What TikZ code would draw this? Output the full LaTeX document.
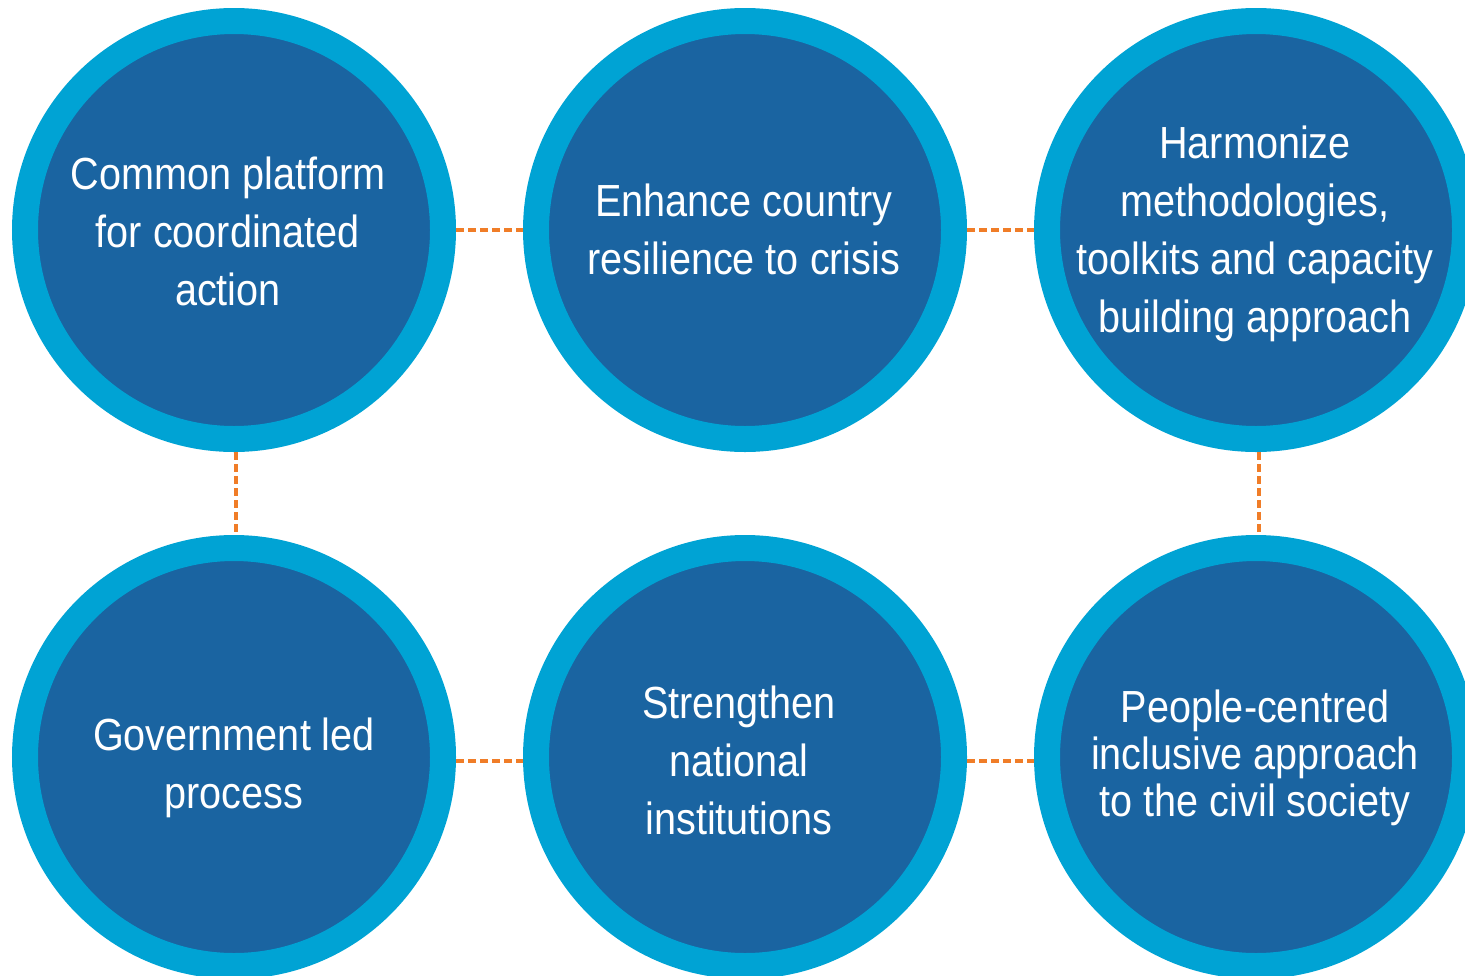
\documentclass[tikz,border=0pt]{standalone}
\usepackage{fontspec}
\setmainfont{Liberation Sans}[FakeStretch=0.88]
\definecolor{ringblue}{HTML}{00A3D4}
\definecolor{coreblue}{HTML}{1A64A1}
\definecolor{linkorange}{HTML}{F07D28}
\tikzset{
  bubble/.style={circle, draw=ringblue, line width=13pt, fill=coreblue, minimum size=209pt, inner sep=0pt},
  bubbletext/.style={text=white, align=center, font=\fontsize{22.5pt}{29pt}\selectfont, inner sep=0pt},
  link/.style={draw=linkorange, line width=1.6pt, dash pattern=on 4pt off 2pt}
}
\begin{document}
\begin{tikzpicture}[x=0.5pt, y=-0.5pt]
\useasboundingbox (0,0) rectangle (1465,975);
\node[bubble] (c1) at (234,230) {};
\node[bubble] (c2) at (745,230) {};
\node[bubble] (c3) at (1256,230) {};
\node[bubble] (c4) at (234,757) {};
\node[bubble] (c5) at (745,757) {};
\node[bubble] (c6) at (1256,757) {};
\draw[link] (c1) -- (c2);
\draw[link] (c2) -- (c3);
\draw[link] (c1.south) ++(2,0) coordinate (a14) -- (a14 |- c4.north);
\draw[link] (c3.south) ++(3,0) coordinate (a36) -- (a36 |- c6.north);
\draw[link] (c4.east) ++(0,4) coordinate (a45) -- (a45 -| c5.west);
\draw[link] (c5.east) ++(0,4) coordinate (a56) -- (a56 -| c6.west);
\node[bubbletext] (t1) at (228,231) {Common platform\\for coordinated\\action};
\node[bubbletext] (t2) at (744,229) {Enhance country\\resilience to crisis};
\node[bubbletext] (t3) at (1255,234) {Harmonize\\methodologies,\\toolkits and capacity\\building approach};
\node[bubbletext] (t4) at (234,768) {Government led\\process};
\node[bubbletext] (t5) at (739,760) {Strengthen\\national\\institutions};
\node[bubbletext, font=\fontsize{22.5pt}{23.5pt}\selectfont] (t6) at (1255,758) {People-centred\\inclusive approach\\to the civil society};
\end{tikzpicture}
\end{document}
